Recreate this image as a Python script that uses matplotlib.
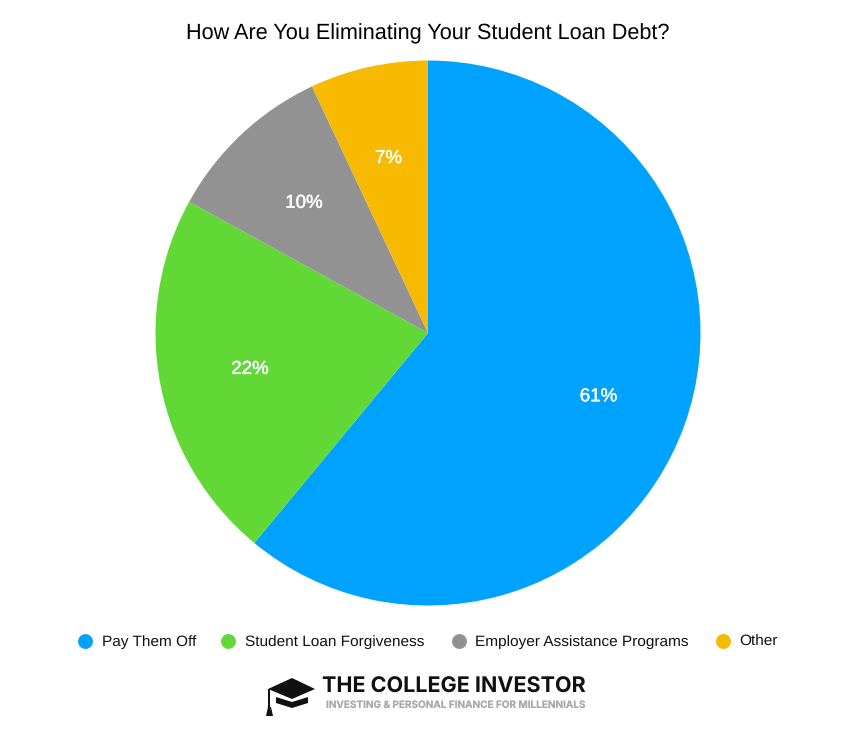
import matplotlib.pyplot as plt
import matplotlib.patheffects as pe
from matplotlib.patches import Polygon, Rectangle

categories = ['Pay Them Off', 'Student Loan Forgiveness', 'Employer Assistance Programs', 'Other']
values = [61, 22, 10, 7]
colors = ['#00A2FF', '#61D836', '#929292', '#F8BA00']

W, H = 857, 731
plt.rcParams['font.family'] = ['Liberation Sans', 'DejaVu Sans']
plt.rcParams['text.hinting'] = 'no_hinting'

fig = plt.figure(figsize=(W / 100, H / 100), dpi=100)
ax = fig.add_axes([0, 0, 1, 1])


def py(y):
    # picture y runs downwards, axes y upwards
    return H - y


wedges, texts, autotexts = ax.pie(values, colors=colors, startangle=90, counterclock=False,
                                  center=(428, py(333)), radius=272.5,
                                  autopct='%d%%', pctdistance=0.665,
                                  textprops={'color': 'white', 'fontsize': 13.5})
for t in autotexts:
    # labels sit a bit lower and heavier than Liberation regular
    x, y = t.get_position()
    t.set_position((x, y - 2))
    t.set_path_effects([pe.withStroke(linewidth=0.3, foreground='white')])

ax.set_xlim(0, W)
ax.set_ylim(0, H)
ax.set_aspect('equal')
ax.axis('off')

ax.text(428, py(34), 'How Are You Eliminating Your Student Loan Debt?', ha='center', va='center',
        fontsize=15.6, color='black')

# legend, placed by hand so the gaps follow the original
marker_x = [85, 228, 459, 723]
label_x = [102, 245, 475, 739]
for x, lx, name, c in zip(marker_x, label_x, categories, colors):
    ax.scatter([x], [py(641)], s=115, color=c, linewidths=0)
    ax.text(lx, py(646), name, ha='left', va='baseline', fontsize=11.1, color='#111111')

# logo: mortarboard and wordmark
dark = '#111111'
ax.add_patch(Polygon([(276, py(697)), (276, py(703)), (292, py(708)), (308, py(703)), (308, py(697)),
                      (292, py(702))], closed=True, color=dark, lw=0))
ax.add_patch(Polygon([(268, py(689)), (292, py(678)), (315, py(689)), (292, py(699))],
                     closed=True, color=dark, lw=0))
ax.add_patch(Rectangle((268.5, py(708)), 2, 19, color=dark, lw=0))
ax.add_patch(Polygon([(268, py(707)), (271, py(707)), (273, py(716)), (266, py(716))],
                     closed=True, color=dark, lw=0))
ax.text(322, py(687), 'THE COLLEGE INVESTOR', ha='left', va='center', fontsize=15.5,
        fontweight='bold', color=dark, family=['Inter', 'DejaVu Sans'])
ax.text(326, py(705.5), 'INVESTING & PERSONAL FINANCE FOR MILLENNIALS', ha='left', va='center', fontsize=7.2,
        fontweight='bold', color='#A8A8A8', family=['Inter', 'DejaVu Sans'])

fig.savefig('out.png', dpi=100, facecolor='white')
